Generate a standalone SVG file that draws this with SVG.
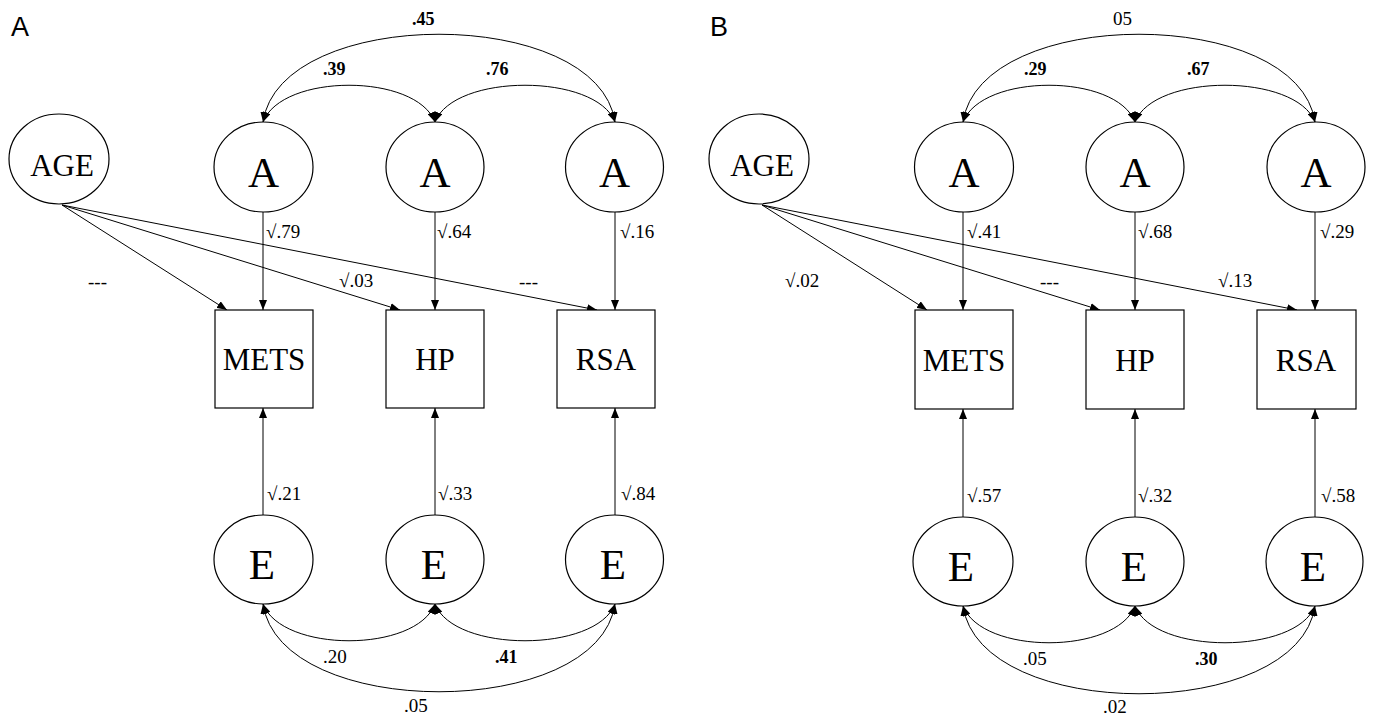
<svg xmlns="http://www.w3.org/2000/svg" width="1374" height="718" viewBox="0 0 1374 718">
<defs>
<marker id="ah" viewBox="0 0 10 8" refX="10" refY="4" markerWidth="10" markerHeight="8" markerUnits="userSpaceOnUse" orient="auto-start-reverse">
<path d="M0,0 L10,4 L0,8 z" fill="#000"/>
</marker>
<style>
.nd{fill:#fff;stroke:#000;stroke-width:1.2}
.ln{fill:none;stroke:#000;stroke-width:1;marker-end:url(#ah)}
.bi{fill:none;stroke:#000;stroke-width:1;marker-start:url(#ah);marker-end:url(#ah)}
text{font-family:"Liberation Serif","Times New Roman",serif;fill:#000}
.big{font-size:43px;text-anchor:middle}
.mid{font-size:31px;text-anchor:middle}
.lb{font-size:19px}
.bd{font-size:18px;font-weight:bold}
.pl{font-family:"Liberation Sans",Arial,sans-serif;font-size:27px}
</style>
</defs>
<rect width="1374" height="718" fill="#fff"/>

<!-- Panel A -->
<g id="panelA">
<text class="pl" x="11" y="36">A</text>
<g id="A_connectors">
<path class="bi" d="M263,122 C280,5 598,5 615,122"/>
<path class="bi" d="M263,122 C282,73 416,73 435,122"/>
<path class="bi" d="M435,122 C454,73 596,73 615,122"/>
<path class="bi" d="M263,604 C282,653 416,653 435,604"/>
<path class="bi" d="M435,604 C454,653 596,653 615,604"/>
<path class="bi" d="M263,604 C280,721 598,721 615,604"/>
<line class="ln" x1="263" y1="212" x2="263" y2="310"/>
<line class="ln" x1="435" y1="212" x2="435" y2="310"/>
<line class="ln" x1="615" y1="212" x2="615" y2="310"/>
<line class="ln" x1="263" y1="515" x2="263" y2="408"/>
<line class="ln" x1="435" y1="515" x2="435" y2="408"/>
<line class="ln" x1="615" y1="515" x2="615" y2="408"/>
<line class="ln" x1="62" y1="205" x2="227" y2="310"/>
<line class="ln" x1="62" y1="205" x2="400" y2="310"/>
<line class="ln" x1="62" y1="205" x2="597" y2="310"/>
</g>
<g id="A_AGE"><ellipse class="nd" cx="59" cy="159" rx="50" ry="45"/><text class="mid" x="62" y="176">AGE</text></g>
<g id="A_A1"><ellipse class="nd" cx="263.5" cy="167" rx="49.5" ry="45"/><text class="big" x="263.5" y="187">A</text></g>
<g id="A_A2"><ellipse class="nd" cx="435" cy="167" rx="49" ry="45"/><text class="big" x="435" y="187">A</text></g>
<g id="A_A3"><ellipse class="nd" cx="614.5" cy="167" rx="49" ry="45"/><text class="big" x="614.5" y="187">A</text></g>
<g id="A_METS"><rect class="nd" x="215" y="310" width="98" height="98"/><text class="mid" x="264" y="370">METS</text></g>
<g id="A_HP"><rect class="nd" x="386" y="310" width="98" height="98"/><text class="mid" x="435" y="370">HP</text></g>
<g id="A_RSA"><rect class="nd" x="557" y="310" width="98" height="98"/><text class="mid" x="606" y="370">RSA</text></g>
<g id="A_E1"><ellipse class="nd" cx="263.5" cy="559.5" rx="49.5" ry="44.5"/><text class="big" x="262" y="579">E</text></g>
<g id="A_E2"><ellipse class="nd" cx="435" cy="559.5" rx="49" ry="44.5"/><text class="big" x="434" y="579">E</text></g>
<g id="A_E3"><ellipse class="nd" cx="614.5" cy="559.5" rx="49" ry="44.5"/><text class="big" x="613" y="579">E</text></g>
<g id="A_labels">
<text class="bd" x="412" y="25">.45</text>
<text class="bd" x="323" y="75">.39</text>
<text class="bd" x="486" y="75">.76</text>
<text class="lb" x="266" y="238">√.79</text>
<text class="lb" x="437" y="238">√.64</text>
<text class="lb" x="620" y="238">√.16</text>
<text class="lb" x="88" y="288">---</text>
<text class="lb" x="339" y="287">√.03</text>
<text class="lb" x="519" y="288">---</text>
<text class="lb" x="267" y="500">√.21</text>
<text class="lb" x="438" y="500">√.33</text>
<text class="lb" x="621" y="500">√.84</text>
<text class="lb" x="323" y="663">.20</text>
<text class="bd" x="495" y="663">.41</text>
<text class="lb" x="404" y="712">.05</text>
</g>
</g>

<!-- Panel B -->
<g id="panelB" transform="translate(700,0)">
<text class="pl" x="10" y="36">B</text>
<g id="B_connectors">
<path class="bi" d="M263,122 C280,5 598,5 615,122"/>
<path class="bi" d="M263,122 C282,73 416,73 435,122"/>
<path class="bi" d="M435,122 C454,73 596,73 615,122"/>
<path class="bi" d="M263,606 C282,655 416,655 435,606"/>
<path class="bi" d="M435,606 C454,655 596,655 615,606"/>
<path class="bi" d="M263,606 C280,723 598,723 615,606"/>
<line class="ln" x1="263" y1="212" x2="263" y2="310"/>
<line class="ln" x1="435" y1="212" x2="435" y2="310"/>
<line class="ln" x1="615" y1="212" x2="615" y2="310"/>
<line class="ln" x1="263" y1="517" x2="263" y2="409"/>
<line class="ln" x1="435" y1="517" x2="435" y2="409"/>
<line class="ln" x1="615" y1="517" x2="615" y2="409"/>
<line class="ln" x1="62" y1="205" x2="227" y2="310"/>
<line class="ln" x1="62" y1="205" x2="400" y2="310"/>
<line class="ln" x1="62" y1="205" x2="597" y2="310"/>
</g>
<g id="B_AGE"><ellipse class="nd" cx="59" cy="159" rx="50" ry="45"/><text class="mid" x="62" y="176">AGE</text></g>
<g id="B_A1"><ellipse class="nd" cx="264" cy="167" rx="49.5" ry="45"/><text class="big" x="264" y="187">A</text></g>
<g id="B_A2"><ellipse class="nd" cx="435" cy="167" rx="49" ry="45"/><text class="big" x="435" y="187">A</text></g>
<g id="B_A3"><ellipse class="nd" cx="616" cy="167" rx="49" ry="45"/><text class="big" x="616" y="187">A</text></g>
<g id="B_METS"><rect class="nd" x="215" y="310" width="98" height="99"/><text class="mid" x="264" y="371">METS</text></g>
<g id="B_HP"><rect class="nd" x="386" y="310" width="98" height="99"/><text class="mid" x="435" y="371">HP</text></g>
<g id="B_RSA"><rect class="nd" x="557" y="310" width="99" height="99"/><text class="mid" x="606" y="371">RSA</text></g>
<g id="B_E1"><ellipse class="nd" cx="263" cy="561.5" rx="50" ry="44.5"/><text class="big" x="261" y="581">E</text></g>
<g id="B_E2"><ellipse class="nd" cx="435" cy="561.5" rx="49" ry="44.5"/><text class="big" x="434" y="581">E</text></g>
<g id="B_E3"><ellipse class="nd" cx="614.5" cy="561.5" rx="48.5" ry="44.5"/><text class="big" x="613" y="581">E</text></g>
<g id="B_labels">
<text class="lb" x="413" y="25">05</text>
<text class="bd" x="324" y="75">.29</text>
<text class="bd" x="487" y="75">.67</text>
<text class="lb" x="267" y="238">√.41</text>
<text class="lb" x="438" y="238">√.68</text>
<text class="lb" x="620" y="238">√.29</text>
<text class="lb" x="85" y="287">√.02</text>
<text class="lb" x="340" y="288">---</text>
<text class="lb" x="518" y="287">√.13</text>
<text class="lb" x="267" y="502">√.57</text>
<text class="lb" x="438" y="502">√.32</text>
<text class="lb" x="621" y="502">√.58</text>
<text class="lb" x="323" y="665">.05</text>
<text class="bd" x="495" y="665">.30</text>
<text class="lb" x="403" y="713">.02</text>
</g>
</g>
</svg>
